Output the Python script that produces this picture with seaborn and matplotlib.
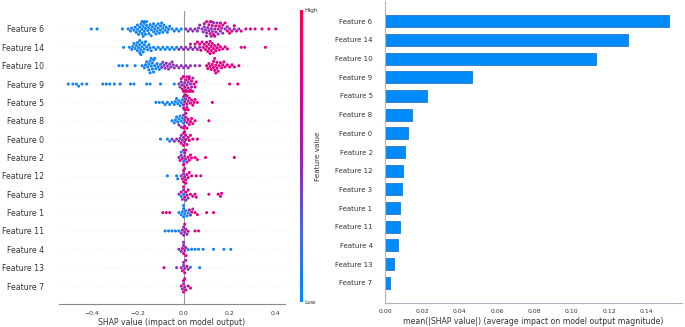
import numpy as np
import pandas as pd
import matplotlib
matplotlib.use("Agg")
import matplotlib.pyplot as plt
import seaborn as sns
from matplotlib.colors import LinearSegmentedColormap
from matplotlib.cm import ScalarMappable
from matplotlib.colors import Normalize

# ---------------- data ----------------
features = ["Feature 6", "Feature 14", "Feature 10", "Feature 9", "Feature 5",
            "Feature 8", "Feature 0", "Feature 2", "Feature 12", "Feature 3",
            "Feature 1", "Feature 11", "Feature 4", "Feature 13", "Feature 7"]

mean_abs_shap = [0.152, 0.130, 0.113, 0.0466, 0.0224, 0.0143, 0.0122, 0.0109,
                 0.0095, 0.0091, 0.0082, 0.0081, 0.0070, 0.0050, 0.0028]

xticks_left = [-0.4, -0.2, 0.0, 0.2, 0.4]
xticks_right = [0.00, 0.02, 0.04, 0.06, 0.08, 0.10, 0.12, 0.14]

# feature-value level for each colour group (low = blue, mid = purple, high = magenta)
level_low, level_mid, level_high = 0.05, 0.45, 0.76

# SHAP values per feature, split by feature-value level
f6_low = [-0.40, -0.375, -0.265, -0.24, -0.23, -0.225, -0.215, -0.21, -0.205, -0.20, -0.20,
          -0.195, -0.19, -0.19, -0.185, -0.18, -0.18, -0.18, -0.175, -0.175, -0.17, -0.17,
          -0.17, -0.165, -0.165, -0.16, -0.16, -0.155, -0.15, -0.15, -0.145, -0.14, -0.14,
          -0.135, -0.13, -0.13, -0.125, -0.12, -0.12, -0.115, -0.11, -0.11, -0.105, -0.10,
          -0.10, -0.095, -0.09, -0.09, -0.085, -0.08, -0.075, -0.07, -0.065, -0.06, -0.05,
          -0.04, -0.03, -0.02, -0.01]
f6_mid = [0.01, 0.02, 0.03, 0.04, 0.05, 0.06, 0.065, 0.07, 0.08, 0.085, 0.09, 0.095, 0.10,
          0.10, 0.105, 0.11, 0.115, 0.12, 0.12, 0.125, 0.13, 0.135, 0.14, 0.145, 0.15, 0.16,
          0.165, 0.17, 0.18, 0.19, 0.20, 0.22, 0.24]
f6_high = [0.09, 0.10, 0.11, 0.115, 0.12, 0.125, 0.13, 0.135, 0.14, 0.15, 0.155,
           0.16, 0.17, 0.18, 0.19, 0.20, 0.21, 0.22, 0.23, 0.25, 0.27, 0.29,
           0.31, 0.34, 0.37, 0.40]

f14_low = [-0.26, -0.235, -0.225, -0.22, -0.215, -0.21, -0.205, -0.20, -0.20, -0.195, -0.19,
           -0.19, -0.19, -0.185, -0.185, -0.18, -0.18, -0.175, -0.17, -0.17, -0.165, -0.16,
           -0.155, -0.15, -0.145, -0.14, -0.13, -0.12, -0.11, -0.10, -0.09, -0.08, -0.07,
           -0.06, -0.05, -0.04, -0.03]
f14_mid = [-0.02, -0.01, 0.0, 0.01, 0.02, 0.03, 0.04, 0.05, 0.06, 0.07]
f14_high = [0.03, 0.05, 0.06, 0.07, 0.075, 0.08, 0.085, 0.09, 0.095, 0.10, 0.10, 0.105, 0.11,
            0.11, 0.115, 0.115, 0.12, 0.12, 0.125, 0.13, 0.13, 0.135, 0.14, 0.145, 0.15,
            0.155, 0.16, 0.17, 0.18, 0.19, 0.25, 0.265, 0.355]

f10_low = [-0.28, -0.265, -0.245, -0.21, -0.18, -0.17, -0.165, -0.16, -0.155, -0.15, -0.15,
           -0.145, -0.145, -0.14, -0.14, -0.135, -0.135, -0.13, -0.13, -0.125, -0.125, -0.12,
           -0.115, -0.11, -0.105, -0.10]
f10_mid = [-0.095, -0.09, -0.085, -0.08, -0.075, -0.07, -0.065, -0.06, -0.055, -0.05, -0.045,
           -0.04, -0.03, -0.02, -0.01, 0.0, 0.01, 0.02, 0.03, 0.05, 0.07]
f10_high = [0.10, 0.105, 0.11, 0.115, 0.12, 0.125, 0.13, 0.13, 0.135, 0.135, 0.14, 0.14,
            0.145, 0.145, 0.15, 0.155, 0.16, 0.165, 0.17, 0.175, 0.18, 0.19, 0.20, 0.21,
            0.22, 0.24]

f9_low = [-0.50, -0.48, -0.465, -0.455, -0.44, -0.42, -0.35, -0.335, -0.32, -0.30, -0.275,
          -0.23, -0.215, -0.16, -0.145, -0.10, -0.04]
f9_mid = [-0.02, -0.015, -0.01, -0.005, 0.0, 0.005, 0.01, 0.015, 0.02, 0.025, 0.03, 0.035, 0.04]
f9_high = [-0.01, -0.005, 0.0, 0.0, 0.005, 0.01, 0.01, 0.015, 0.02, 0.02, 0.025, 0.03, 0.03,
           0.035, 0.04, 0.045, 0.05, 0.055, 0.20, 0.235]

f5_low = [-0.12, -0.105, -0.09, -0.08, -0.07, -0.06, -0.05, -0.04, -0.035, -0.03, -0.025,
          -0.02, -0.015, -0.01, -0.005]
f5_mid = [0.0, 0.0, 0.005, 0.01, 0.015, 0.02]
f5_high = [0.0, 0.005, 0.005, 0.01, 0.01, 0.015, 0.015, 0.02, 0.025, 0.03, 0.035, 0.04,
           0.045, 0.05, 0.06, 0.125]

f8_low = [-0.05, -0.04, -0.035, -0.03, -0.025, -0.02, -0.015, -0.01, -0.005, 0.0]
f8_mid = [-0.02, -0.01, 0.0, 0.005]
f8_high = [0.0, 0.005, 0.01, 0.01, 0.015, 0.015, 0.02, 0.025, 0.03, 0.035, 0.04, 0.05, 0.11]

f0_low = [-0.10, -0.07, -0.06]
f0_mid = [-0.05, -0.04, -0.03, -0.02, -0.015, -0.01, -0.005, 0.0, 0.005]
f0_high = [-0.01, 0.0, 0.0, 0.005, 0.01, 0.01, 0.015, 0.02, 0.025, 0.03, 0.04, 0.06]

f2_low = [-0.01, 0.0]
f2_mid = [-0.02, -0.01, 0.0, 0.005, 0.01]
f2_high = [-0.015, -0.005, 0.0, 0.0, 0.005, 0.01, 0.015, 0.02, 0.025, 0.03, 0.035, 0.05,
           0.06, 0.095, 0.22]

f12_low = [-0.07, -0.03, -0.025]
f12_mid = [-0.01, 0.0, 0.005]
f12_high = [-0.005, 0.0, 0.0, 0.005, 0.01, 0.01, 0.015, 0.02, 0.025, 0.035, 0.055, 0.075]

f3_low = [-0.01, 0.0]
f3_mid = [-0.02, -0.005, 0.0, 0.01, 0.02]
f3_high = [-0.01, 0.0, 0.005, 0.01, 0.015, 0.02, 0.03, 0.04, 0.05, 0.055, 0.11, 0.15,
           0.16, 0.165]

f1_low = [-0.02, -0.01, -0.005, 0.0, 0.0, 0.0, 0.005, 0.01, 0.015, 0.02]
f1_mid = [0.03, 0.04]
f1_high = [-0.09, -0.075, -0.06, 0.025, 0.035, 0.05, 0.06, 0.10, 0.13]

f11_low = [-0.08, -0.065, -0.05, -0.035, -0.02]
f11_mid = [-0.01, 0.0, 0.0, 0.005, 0.01, 0.015]
f11_high = [-0.005, 0.005, 0.02, 0.05, 0.065]

f4_low = [0.02, 0.035, 0.05, 0.065, 0.085, 0.13, 0.175, 0.205]
f4_mid = [-0.02, -0.01, 0.0, 0.0, 0.005, 0.01]
f4_high = [-0.005, 0.0, 0.01]

f13_low = [0.03, 0.07]
f13_mid = [-0.03, -0.01, 0.0, 0.0, 0.005, 0.01, 0.02]
f13_high = [-0.085, -0.005, 0.005, 0.015]

f7_low = []
f7_mid = [-0.005, 0.0, 0.005]
f7_high = [-0.01, 0.0, 0.0, 0.005, 0.01, 0.02, 0.03]

groups = [
    (f6_low, f6_mid, f6_high), (f14_low, f14_mid, f14_high), (f10_low, f10_mid, f10_high),
    (f9_low, f9_mid, f9_high), (f5_low, f5_mid, f5_high), (f8_low, f8_mid, f8_high),
    (f0_low, f0_mid, f0_high), (f2_low, f2_mid, f2_high), (f12_low, f12_mid, f12_high),
    (f3_low, f3_mid, f3_high), (f1_low, f1_mid, f1_high), (f11_low, f11_mid, f11_high),
    (f4_low, f4_mid, f4_high), (f13_low, f13_mid, f13_high), (f7_low, f7_mid, f7_high),
]

rows = []
for name, (lo, mi, hi) in zip(features, groups):
    for level, vals in ((level_low, lo), (level_mid, mi), (level_high, hi)):
        for v in vals:
            rows.append((name, v, level))
df = pd.DataFrame(rows, columns=["feature", "shap", "value"])
bar_df = pd.DataFrame({"feature": features, "mean_abs": mean_abs_shap})

# ---------------- style ----------------
sns.set_style("white")
plt.rcParams["font.family"] = ["DejaVu Sans"]
TXT = "#333333"

shap_cmap = LinearSegmentedColormap.from_list(
    "shap_red_blue", ["#008bfb", "#4963e3", "#9c21ad", "#e00087", "#ff0051"])

W, H = 685, 327
fig = plt.figure(figsize=(W / 100, H / 100), dpi=100)

# ---------------- left: beeswarm ----------------
ax1 = fig.add_axes([59 / W, (H - 304.4) / H, (285 - 59) / W, 293.8 / H])
for i in range(len(features)):
    ax1.axhline(i, color="#cccccc", lw=0.5, dashes=(1, 5), zorder=-1)
ax1.axvline(0, color="#999999", lw=0.8, zorder=-1)
sns.swarmplot(data=df, x="shap", y="feature", hue="value", palette=shap_cmap,
              hue_norm=(0, 1), order=features, orient="h", size=2.2, linewidth=0,
              legend=False, ax=ax1, warn_thresh=1)
ax1.set_ylim(len(features), -1)
ax1.set_xlim(-0.54, 0.44)
ax1.set_xticks(xticks_left)
ax1.set_xticklabels([f"{t:.1f}".replace("-", "\u2212") for t in xticks_left])
ax1.set_ylabel("")
ax1.set_xlabel("SHAP value (impact on model output)", fontsize=5.6, color=TXT, labelpad=2)
for s in ["top", "right", "left"]:
    ax1.spines[s].set_visible(False)
ax1.spines["bottom"].set_color("#888888")
ax1.spines["bottom"].set_linewidth(0.8)
ax1.tick_params(axis="y", length=0, pad=11, labelsize=5.6, labelcolor=TXT)
ax1.tick_params(axis="x", length=2.5, width=0.6, color="#888888", pad=2,
                labelsize=4.4, labelcolor=TXT)

# colour bar
cax = fig.add_axes([299.5 / W, (H - 302) / H, 3.0 / W, 292 / H])
cb = fig.colorbar(ScalarMappable(norm=Normalize(0, 1), cmap=shap_cmap), cax=cax, ticks=[0, 1])
cb.set_ticklabels(["Low", "High"])
cb.outline.set_visible(False)
cb.ax.tick_params(length=0, labelsize=4.2, pad=1.5, labelcolor=TXT)
cb.set_label("Feature value", size=5.2, color=TXT, labelpad=-2)

# ---------------- right: mean |SHAP| bars ----------------
ax2 = fig.add_axes([385 / W, (H - 303) / H, (682 - 385) / W, 302 / H])
sns.barplot(data=bar_df, x="mean_abs", y="feature", order=features, orient="h",
            color="#008bfb", saturation=1, width=0.65, linewidth=0.5,
            edgecolor="#1a64b8", ax=ax2)
ax2.set_ylim(len(features) - 1 + 1.085, -1.085)
ax2.set_xlim(0, 0.159)
ax2.set_xticks(xticks_right)
ax2.set_xticklabels([f"{t:.2f}" for t in xticks_right])
ax2.set_ylabel("")
ax2.set_xlabel("mean(|SHAP value|) (average impact on model output magnitude)",
               fontsize=5.6, color=TXT, labelpad=2)
for s in ["top", "right"]:
    ax2.spines[s].set_visible(False)
for s in ["left", "bottom"]:
    ax2.spines[s].set_color("#aab4c0")
    ax2.spines[s].set_linewidth(0.8)
ax2.tick_params(axis="y", length=0, pad=9, labelsize=5.0, labelcolor=TXT)
ax2.tick_params(axis="x", length=2.5, width=0.6, color="#888888", pad=2,
                labelsize=4.4, labelcolor=TXT)

fig.savefig("out.png", dpi=100)
